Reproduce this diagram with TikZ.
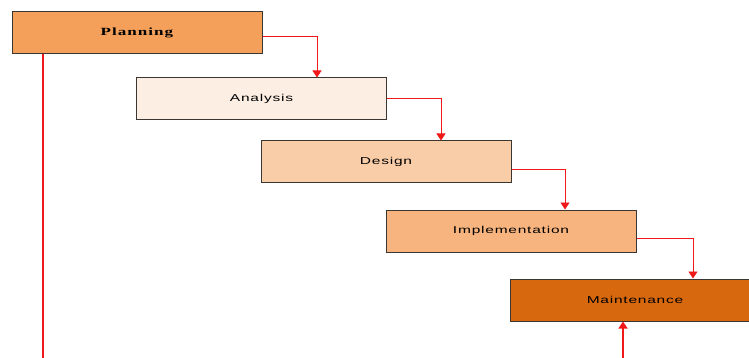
\documentclass[tikz,border=0pt]{standalone}
\usepackage{fontspec}
\usepackage{graphicx}
\usetikzlibrary{arrows.meta,calc}
\newfontfamily\stagefont[LetterSpace=5]{Liberation Sans}
\newfontfamily\headfont[LetterSpace=6]{Liberation Serif}
\definecolor{cPlan}{HTML}{F4A05A}
\definecolor{cAnal}{HTML}{FCEEE3}
\definecolor{cDesi}{HTML}{F9CDA8}
\definecolor{cImpl}{HTML}{F7B47E}
\definecolor{cMain}{HTML}{D8680E}
\definecolor{cEdge}{HTML}{3A3632}
\definecolor{cFlow}{HTML}{F01818}
\newcommand{\widetext}[1]{\scalebox{1.55}[1]{#1}}
\tikzset{
  stage/.style={draw=cEdge, line width=1pt, minimum width=250pt, minimum height=42pt,
    inner sep=0pt, font=\stagefont\fontsize{10}{12}\selectfont},
  flow/.style={draw=cFlow, line width=0.8pt, -{Triangle[length=7pt,width=9pt]}},
  rail/.style={draw=cFlow, line width=1.3pt}
}
\begin{document}
\begin{tikzpicture}[x=1pt,y=-1pt]
\useasboundingbox (0,0) rectangle (749,358);
\begin{scope}
\clip (0,0) rectangle (749,358);
% waterfall stages
\node[stage, fill=cPlan, font=\headfont\bfseries\fontsize{11}{13}\selectfont] (plan) at (137,32.5) {\widetext{Planning}};
\node[stage, fill=cAnal] (anal) at (261.5,99) {\widetext{Analysis}};
\node[stage, fill=cDesi] (desi) at (386,162) {\widetext{Design}};
\node[stage, fill=cImpl] (impl) at (511,231) {\widetext{Implementation}};
\node[stage, fill=cMain] (main) at (635,300) {\widetext{Maintenance}};
% exit points of the step connectors
\coordinate (planOut) at ($(plan.east)+(0,4)$);
\coordinate (analOut) at ($(anal.east)+(0,-1)$);
\coordinate (desiOut) at ($(desi.east)+(0,7)$);
\coordinate (implOut) at ($(impl.east)+(0,7)$);
\coordinate (analIn) at (317,0);
\coordinate (desiIn) at (441,0);
\coordinate (implIn) at (565,0);
\coordinate (mainIn) at (693,0);
\draw[flow] (planOut) -| (analIn |- anal.north);
\draw[flow] (analOut) -| (desiIn |- desi.north);
\draw[flow] (desiOut) -| (implIn |- impl.north);
\draw[flow] (implOut) -| (mainIn |- main.north);
% feedback lines
\coordinate (railTop) at (43,0);
\coordinate (railEnd) at (43,358);
\draw[rail] (railTop |- plan.south) -- (railEnd);
\coordinate (backStart) at (623,358);
\draw[flow, line width=1.3pt] (backStart) -- (backStart |- main.south);
\end{scope}
\end{tikzpicture}
\end{document}
